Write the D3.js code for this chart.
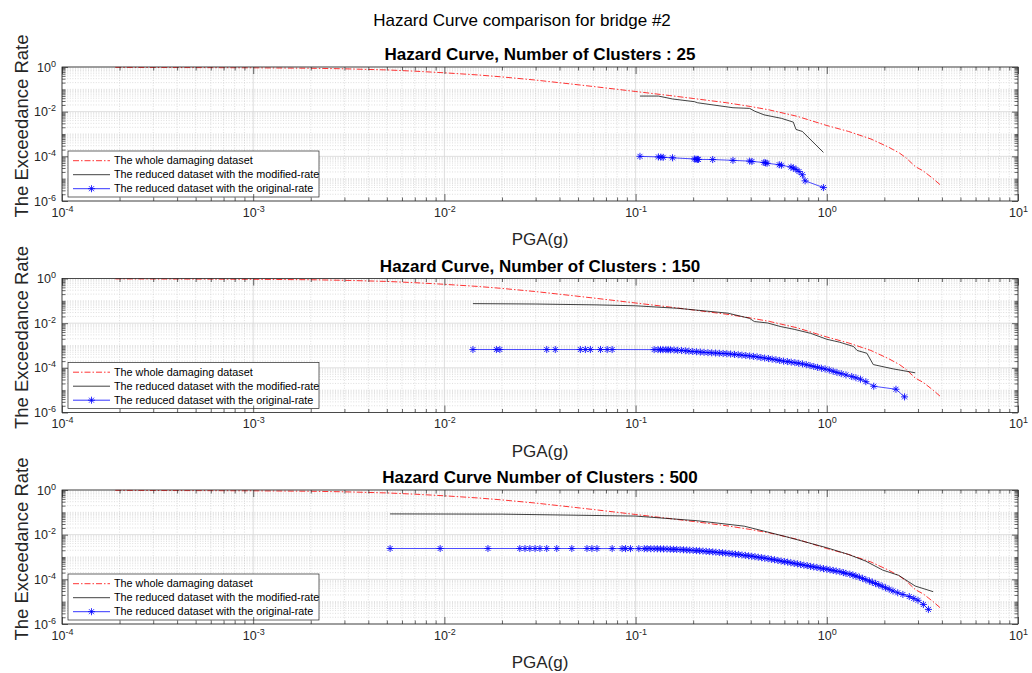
<!DOCTYPE html>
<html>
<head>
<meta charset="utf-8">
<script src="https://cdn.jsdelivr.net/npm/d3@7"></script>
<style>
  body { margin: 0; background: #fff; }
  svg { display: block; font-family: "Liberation Sans", Arial, Helvetica, sans-serif; }
</style>
</head>
<body>
<svg id="chart"></svg>
<script>
// ---- values ----
const figureTitle = "Hazard Curve comparison for bridge #2";
const panelTitles = [
  "Hazard Curve, Number of Clusters : 25",
  "Hazard Curve, Number of Clusters : 150",
  "Hazard Curve Number of Clusters : 500"
];
const xLabel = "PGA(g)";
const yLabel = "The Exceedance Rate";
const legendLabels = [
  "The whole damaging dataset",
  "The reduced dataset with the modified-rate",
  "The reduced dataset with the original-rate"
];
const xTickExponents = [-4, -3, -2, -1, 0, 1];
const yTickExponents = [0, -2, -4, -6];

// whole damaging dataset (same in every panel)
const wholePGA = [1.9e-4, 3e-4, 5e-4, 1e-3, 2e-3, 3e-3, 5e-3, 7e-3, 0.01, 0.015, 0.02, 0.03, 0.05, 0.07, 0.1, 0.15, 0.2, 0.3, 0.4, 0.5, 0.7, 1.0, 1.3, 1.7, 2.1, 2.4, 2.6, 2.9, 3.2, 3.6, 3.95];
const wholeRate = [0.96, 0.95, 0.94, 0.92, 0.88, 0.83, 0.74, 0.65, 0.55, 0.44, 0.36, 0.26, 0.16, 0.115, 0.08, 0.053, 0.039, 0.025, 0.017, 0.012, 0.0062, 0.0024, 0.0013, 6e-4, 2.6e-4, 1.4e-4, 8.5e-5, 3.5e-5, 2.2e-5, 1e-5, 5e-6];

// 25 clusters
const pga25Mod = [0.1054, 0.1316, 0.156, 0.203, 0.211, 0.323, 0.395, 0.42, 0.47, 0.58, 0.668, 0.69, 0.745, 0.96];
const rate25Mod = [0.05, 0.05, 0.037, 0.028, 0.025, 0.015, 0.014, 0.0105, 0.0072, 0.005, 0.0034, 0.0016, 0.0013, 1.5e-4];
const pga25Orig = [0.1054, 0.1316, 0.1355, 0.1394, 0.156, 0.203, 0.207, 0.211, 0.213, 0.253, 0.323, 0.395, 0.406, 0.469, 0.478, 0.487, 0.564, 0.579, 0.65, 0.668, 0.69, 0.716, 0.745, 0.77, 0.96];
const rate25Orig = [1.0e-4, 9.4e-5, 9.2e-5, 9.0e-5, 8.6e-5, 7.6e-5, 7.4e-5, 7.3e-5, 7.25e-5, 7.2e-5, 6.6e-5, 6.1e-5, 5.9e-5, 5.3e-5, 5.1e-5, 4.9e-5, 4.2e-5, 4.0e-5, 3.3e-5, 3.0e-5, 2.6e-5, 2.1e-5, 1.5e-5, 8e-6, 4e-6];

// 150 clusters
const pga150Mod = [0.0141, 0.03, 0.062, 0.1, 0.168, 0.304, 0.394, 0.418, 0.49, 0.575, 0.675, 0.824, 1.0, 1.17, 1.38, 1.44, 1.62, 1.75, 2.22, 2.9];
const rate150Mod = [0.075, 0.072, 0.066, 0.06, 0.046, 0.028, 0.0165, 0.0118, 0.0102, 0.007, 0.0053, 0.0035, 0.0019, 0.0014, 9e-4, 6e-4, 4.5e-4, 1.4e-4, 9e-5, 6e-5];
const pga150Orig = [0.0141, 0.0187, 0.0195, 0.0343, 0.038, 0.0514, 0.0546, 0.058, 0.0655, 0.071, 0.0754, 0.125, 0.131, 0.135, 0.139, 0.144, 0.148,
  0.152, 0.159, 0.166, 0.174, 0.182, 0.190, 0.199, 0.208, 0.218, 0.228, 0.239, 0.250, 0.262, 0.274, 0.287, 0.300, 0.314, 0.329, 0.344, 0.360,
  0.377, 0.395, 0.413, 0.432, 0.452, 0.473, 0.495, 0.518, 0.542, 0.567, 0.594, 0.622, 0.651, 0.681, 0.713, 0.746, 0.781, 0.817, 0.855, 0.895,
  0.937, 0.980, 1.03, 1.08, 1.13, 1.19, 1.26, 1.35, 1.42, 1.50, 1.60, 1.76, 2.30, 2.55];
const rate150Orig = [6.6e-4, 6.6e-4, 6.6e-4, 6.6e-4, 6.6e-4, 6.6e-4, 6.6e-4, 6.6e-4, 6.6e-4, 6.6e-4, 6.6e-4, 6.55e-4, 6.55e-4, 6.5e-4, 6.5e-4, 6.5e-4, 6.45e-4,
  6.4e-4, 6.3e-4, 6.1e-4, 6.0e-4, 5.8e-4, 5.6e-4, 5.4e-4, 5.25e-4, 5.1e-4, 4.95e-4, 4.8e-4, 4.7e-4, 4.6e-4, 4.5e-4, 4.4e-4, 4.3e-4, 4.15e-4, 4.0e-4, 3.85e-4, 3.7e-4,
  3.55e-4, 3.4e-4, 3.25e-4, 3.1e-4, 2.9e-4, 2.75e-4, 2.6e-4, 2.45e-4, 2.3e-4, 2.15e-4, 2.0e-4, 1.9e-4, 1.8e-4, 1.7e-4, 1.6e-4, 1.5e-4, 1.38e-4, 1.26e-4, 1.15e-4, 1.05e-4,
  9.6e-5, 8.9e-5, 8.0e-5, 7.0e-5, 6.2e-5, 5.5e-5, 4.8e-5, 4.1e-5, 3.6e-5, 3.1e-5, 2.4e-5, 1.5e-5, 1.1e-5, 5.0e-6];

// 500 clusters
const pga500Mod = [0.0052, 0.02, 0.1, 0.21, 0.37, 0.6, 1.0, 1.3, 1.6, 1.96, 2.38, 2.9, 3.6];
const rate500Mod = [0.085, 0.083, 0.068, 0.042, 0.024, 0.0085, 0.0026, 0.0013, 6.5e-4, 2.6e-4, 1.5e-4, 5e-5, 2.8e-5];
const pga500Orig = [0.0052, 0.0095, 0.0169, 0.0248, 0.0264, 0.028, 0.0298, 0.0316, 0.0343, 0.0387, 0.0464, 0.0557, 0.0591, 0.0628, 0.0754, 0.085, 0.0886, 0.094, 0.104, 0.111, 0.115,
  0.120, 0.125, 0.130, 0.135, 0.140, 0.146, 0.152, 0.158, 0.164, 0.171, 0.178, 0.185, 0.192, 0.200, 0.208, 0.216, 0.225, 0.234, 0.243, 0.253,
  0.263, 0.274, 0.285, 0.296, 0.308, 0.320, 0.333, 0.346, 0.360, 0.375, 0.390, 0.405, 0.421, 0.438, 0.456, 0.474, 0.493, 0.513, 0.533, 0.555,
  0.577, 0.600, 0.624, 0.649, 0.675, 0.702, 0.730, 0.759, 0.790, 0.821, 0.854, 0.888, 0.924, 0.961, 1.00, 1.04, 1.08, 1.12, 1.17, 1.22,
  1.26, 1.32, 1.37, 1.42, 1.48, 1.54, 1.60, 1.67, 1.73, 1.80, 1.87, 1.95, 2.03, 2.12, 2.22, 2.35, 2.50, 2.70, 2.85, 3.00, 3.20, 3.40];
const rate500Orig = [2.4e-3, 2.4e-3, 2.4e-3, 2.4e-3, 2.4e-3, 2.4e-3, 2.4e-3, 2.4e-3, 2.4e-3, 2.4e-3, 2.4e-3, 2.4e-3, 2.4e-3, 2.39e-3, 2.39e-3, 2.38e-3, 2.38e-3, 2.37e-3, 2.37e-3, 2.36e-3, 2.36e-3,
  2.35e-3, 2.34e-3, 2.33e-3, 2.31e-3, 2.29e-3, 2.27e-3, 2.24e-3, 2.21e-3, 2.18e-3, 2.14e-3, 2.10e-3, 2.06e-3, 2.02e-3, 1.98e-3, 1.93e-3, 1.89e-3, 1.84e-3, 1.79e-3, 1.74e-3, 1.69e-3,
  1.64e-3, 1.59e-3, 1.54e-3, 1.49e-3, 1.44e-3, 1.39e-3, 1.34e-3, 1.29e-3, 1.23e-3, 1.18e-3, 1.13e-3, 1.08e-3, 1.03e-3, 9.8e-4, 9.3e-4, 8.8e-4, 8.4e-4, 7.9e-4, 7.5e-4, 7.0e-4,
  6.6e-4, 6.2e-4, 5.9e-4, 5.5e-4, 5.2e-4, 4.9e-4, 4.6e-4, 4.3e-4, 4.1e-4, 3.8e-4, 3.6e-4, 3.4e-4, 3.2e-4, 3.0e-4, 2.85e-4, 2.65e-4, 2.5e-4, 2.35e-4, 2.2e-4, 2.0e-4,
  1.85e-4, 1.7e-4, 1.55e-4, 1.4e-4, 1.25e-4, 1.1e-4, 9.6e-5, 8.4e-5, 7.4e-5, 6.5e-5, 5.7e-5, 4.9e-5, 4.2e-5, 3.6e-5, 3.0e-5, 2.5e-5, 2.1e-5, 1.7e-5, 1.4e-5, 1.15e-5, 7.5e-6, 4.5e-6];

// MATLAB style '*' marker: plus and cross laid over each other
const asteriskSymbol = {
  draw(context, size) {
    const r = Math.sqrt(size) / 2;
    const k = r * Math.SQRT1_2;
    context.moveTo(-r, 0); context.lineTo(r, 0);
    context.moveTo(0, -r); context.lineTo(0, r);
    context.moveTo(-k, -k); context.lineTo(k, k);
    context.moveTo(-k, k); context.lineTo(k, -k);
  }
};

// "10" with a raised exponent, like MATLAB log tick labels
function powerLabel(selection) {
  selection.each(function(d) {
    const t = d3.select(this);
    t.text(null);
    t.append('tspan').text('10');
    t.append('tspan').attr('dy', '-0.55em').attr('font-size', '0.72em').text(Math.round(Math.log10(d)));
  });
}

class HazardPanel {

  constructor(_config, _data) {
    this.config = {
      parentElement: _config.parentElement,
      left: _config.left,
      top: _config.top,
      width: _config.width,
      height: _config.height,
      title: _config.title
    }
    this.data = _data;
    this.initVis();
  }

  initVis() {
    let vis = this;

    vis.width = vis.config.width;
    vis.height = vis.config.height;

    vis.svg = d3.select(vis.config.parentElement);
    vis.chart = vis.svg.append('g')
        .attr('transform', `translate(${vis.config.left},${vis.config.top})`);

    vis.xScale = d3.scaleLog()
        .domain([1e-4, 10])
        .range([0, vis.width]);

    vis.yScale = d3.scaleLog()
        .domain([1e-6, 1])
        .range([vis.height, 0]);

    // tick positions for the log grid
    vis.xMajor = xTickExponents.map(e => Math.pow(10, e));
    vis.xMinor = [];
    d3.range(-4, 1).forEach(e => d3.range(2, 10).forEach(m => vis.xMinor.push(m * Math.pow(10, e))));
    vis.yMajor = yTickExponents.map(e => Math.pow(10, e));
    vis.yMinor = [];
    d3.range(-6, 0).forEach(e => d3.range(1, 10).forEach(m => {
      if (!(m == 1 && e % 2 == 0)) vis.yMinor.push(m * Math.pow(10, e));
    }));

    // minor grid (dotted)
    vis.chart.append('g').selectAll('line.xminor')
        .data(vis.xMinor)
      .join('line')
        .attr('x1', d => vis.xScale(d)).attr('x2', d => vis.xScale(d))
        .attr('y1', 0).attr('y2', vis.height)
        .attr('stroke', '#c8c8c8').attr('stroke-width', 0.6)
        .attr('stroke-dasharray', '1,1.6');
    vis.chart.append('g').selectAll('line.yminor')
        .data(vis.yMinor)
      .join('line')
        .attr('y1', d => vis.yScale(d)).attr('y2', d => vis.yScale(d))
        .attr('x1', 0).attr('x2', vis.width)
        .attr('stroke', '#c8c8c8').attr('stroke-width', 0.6)
        .attr('stroke-dasharray', '1,1.6');

    // major grid (solid)
    vis.chart.append('g').selectAll('line')
        .data(vis.xMajor)
      .join('line')
        .attr('x1', d => vis.xScale(d)).attr('x2', d => vis.xScale(d))
        .attr('y1', 0).attr('y2', vis.height)
        .attr('stroke', '#d6d6d6').attr('stroke-width', 0.8);
    vis.chart.append('g').selectAll('line')
        .data(vis.yMajor)
      .join('line')
        .attr('y1', d => vis.yScale(d)).attr('y2', d => vis.yScale(d))
        .attr('x1', 0).attr('x2', vis.width)
        .attr('stroke', '#d6d6d6').attr('stroke-width', 0.8);

    vis.lineGroup = vis.chart.append('g');
    vis.legendGroup = vis.chart.append('g');

    // axes with inward ticks on all four sides
    const tickColor = '#262626';
    const styleAxis = g => {
      g.select('.domain').remove();
      g.selectAll('.tick line').attr('stroke', tickColor).attr('stroke-width', 0.7);
      g.attr('font-family', null).attr('font-size', 12.5).attr('fill', tickColor);
      g.selectAll('.tick text').attr('fill', tickColor);
    };

    vis.chart.append('g')
        .attr('transform', `translate(0,${vis.height})`)
        .call(d3.axisBottom(vis.xScale).tickValues(vis.xMajor).tickSizeInner(-7).tickSizeOuter(0).tickPadding(7))
        .call(styleAxis)
        .selectAll('.tick text').call(powerLabel);
    vis.chart.append('g')
        .attr('transform', `translate(0,${vis.height})`)
        .call(d3.axisBottom(vis.xScale).tickValues(vis.xMinor).tickSize(-3.5).tickFormat(''))
        .call(styleAxis);
    vis.chart.append('g')
        .call(d3.axisTop(vis.xScale).tickValues(vis.xMajor).tickSize(-7).tickFormat(''))
        .call(styleAxis);
    vis.chart.append('g')
        .call(d3.axisTop(vis.xScale).tickValues(vis.xMinor).tickSize(-3.5).tickFormat(''))
        .call(styleAxis);

    vis.chart.append('g')
        .call(d3.axisLeft(vis.yScale).tickValues(vis.yMajor).tickSizeInner(-6).tickSizeOuter(0).tickPadding(6))
        .call(styleAxis)
        .selectAll('.tick text').call(powerLabel);
    vis.chart.append('g')
        .call(d3.axisLeft(vis.yScale).tickValues(vis.yMinor).tickSize(-3.5).tickFormat(''))
        .call(styleAxis);
    vis.chart.append('g')
        .attr('transform', `translate(${vis.width},0)`)
        .call(d3.axisRight(vis.yScale).tickValues(vis.yMajor).tickSize(-6).tickFormat(''))
        .call(styleAxis);
    vis.chart.append('g')
        .attr('transform', `translate(${vis.width},0)`)
        .call(d3.axisRight(vis.yScale).tickValues(vis.yMinor).tickSize(-3.5).tickFormat(''))
        .call(styleAxis);

    // box
    vis.chart.append('rect')
        .attr('width', vis.width)
        .attr('height', vis.height)
        .attr('fill', 'none')
        .attr('stroke', tickColor)
        .attr('stroke-width', 0.8);

    // title and axis labels
    vis.chart.append('text')
        .attr('x', vis.width / 2)
        .attr('y', -7)
        .attr('text-anchor', 'middle')
        .attr('font-weight', 'bold')
        .style('font-size', '17px')
        .text(vis.config.title);

    vis.chart.append('text')
        .attr('x', vis.width / 2)
        .attr('y', vis.height + 44)
        .attr('text-anchor', 'middle')
        .attr('fill', tickColor)
        .style('font-size', '17px')
        .text(xLabel);

    vis.chart.append('text')
        .attr('transform', `translate(${28 - vis.config.left},${vis.height / 2 - 8}) rotate(-90)`)
        .attr('text-anchor', 'middle')
        .attr('fill', tickColor)
        .style('font-size', '18.5px')
        .text(yLabel);

    vis.updateVis();
  }

  updateVis() {
    let vis = this;

    vis.line = d3.line()
        .x(d => vis.xScale(d[0]))
        .y(d => vis.yScale(d[1]));

    const whole = d3.zip(vis.data.wholePGA, vis.data.wholeRate);
    const modified = d3.zip(vis.data.modPGA, vis.data.modRate);
    const original = d3.zip(vis.data.origPGA, vis.data.origRate);

    vis.lineGroup.append('path')
        .attr('d', vis.line(whole))
        .attr('fill', 'none')
        .attr('stroke', '#ff0000')
        .attr('stroke-width', 0.8)
        .attr('stroke-dasharray', '6,2,1.5,2');

    vis.lineGroup.append('path')
        .attr('d', vis.line(modified))
        .attr('fill', 'none')
        .attr('stroke', '#111')
        .attr('stroke-width', 0.8);

    vis.lineGroup.append('path')
        .attr('d', vis.line(original))
        .attr('fill', 'none')
        .attr('stroke', '#0000ff')
        .attr('stroke-width', 0.7);

    vis.symbol = d3.symbol().type(asteriskSymbol).size(50);
    vis.lineGroup.selectAll('.dot')
        .data(original)
      .join('path')
        .attr('class', 'dot')
        .attr('transform', d => `translate(${vis.xScale(d[0])},${vis.yScale(d[1])})`)
        .attr('d', vis.symbol())
        .attr('fill', 'none')
        .attr('stroke', '#0000ff')
        .attr('stroke-width', 0.85);

    vis.renderLegend();
  }

  renderLegend() {
    let vis = this;

    const lg = vis.legendGroup
        .attr('transform', `translate(6,${vis.height - 50})`);

    lg.append('rect')
        .attr('width', 251)
        .attr('height', 46)
        .attr('fill', '#fff')
        .attr('stroke', '#262626')
        .attr('stroke-width', 0.7);

    const rows = lg.selectAll('.entry')
        .data(legendLabels)
      .join('g')
        .attr('class', 'entry')
        .attr('transform', (d, i) => `translate(0,${9.7 + i * 14})`);

    rows.append('line')
        .attr('x1', 5).attr('x2', 42)
        .attr('stroke', (d, i) => ['#ff0000', '#111', '#0000ff'][i])
        .attr('stroke-width', 0.8)
        .attr('stroke-dasharray', (d, i) => i == 0 ? '6,2,1.5,2' : null);

    rows.filter((d, i) => i == 2).append('path')
        .attr('transform', 'translate(23.5,0)')
        .attr('d', vis.symbol())
        .attr('fill', 'none')
        .attr('stroke', '#0000ff')
        .attr('stroke-width', 0.8);

    rows.append('text')
        .attr('x', 46)
        .attr('dy', '0.35em')
        .style('font-size', '10.8px')
        .attr('fill', '#000')
        .text(d => d);
  }
}

const svg = d3.select('#chart')
    .attr('width', 1032)
    .attr('height', 673);

svg.append('text')
    .attr('x', 522)
    .attr('y', 26)
    .attr('text-anchor', 'middle')
    .style('font-size', '17px')
    .text(figureTitle);

const panelTops = [67, 278.5, 490];
const panelSets = [
  { modPGA: pga25Mod, modRate: rate25Mod, origPGA: pga25Orig, origRate: rate25Orig },
  { modPGA: pga150Mod, modRate: rate150Mod, origPGA: pga150Orig, origRate: rate150Orig },
  { modPGA: pga500Mod, modRate: rate500Mod, origPGA: pga500Orig, origRate: rate500Orig }
];

panelSets.forEach((set, i) => {
  new HazardPanel({
    parentElement: '#chart',
    left: 62,
    top: panelTops[i],
    width: 956,
    height: 134,
    title: panelTitles[i]
  }, Object.assign({ wholePGA: wholePGA, wholeRate: wholeRate }, set));
});
</script>
</body>
</html>
